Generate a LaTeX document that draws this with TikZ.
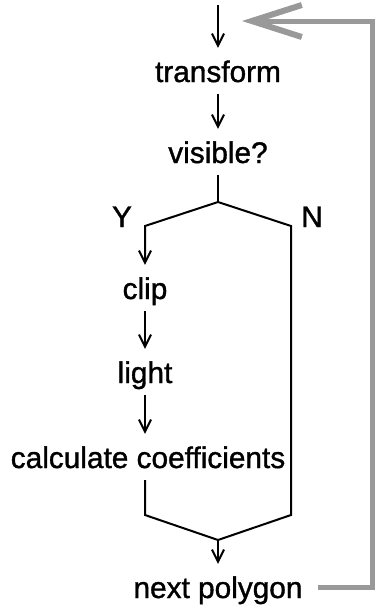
\documentclass[tikz,border=0pt]{standalone}
\usepackage{fontspec}
\setmainfont[FakeBold=1.2]{Liberation Sans}
\usepackage{tikz}
\usetikzlibrary{arrows.meta,positioning,calc}

\begin{document}
\begin{tikzpicture}[x=1pt, y=-1pt, font=\fontsize{29.8}{34}\selectfont,
  lbl/.style={anchor=base, inner sep=0pt, text height=34pt, text depth=12pt},
  flow/.style={line width=2pt, line join=miter},
  tip/.style={-{Straight Barb[length=12pt,width=12pt,line width=2pt]}},
  loopback/.style={line width=5pt, draw=black!40, line join=miter,
    -{Straight Barb[length=50pt,width=32pt,line width=6pt]}}]
\useasboundingbox (0,0) rectangle (376,611);
\def\lx{145}
\def\rx{291}
% steps
\node[lbl] (transform) at (218,82) {transform};
\node[lbl] (visible) at (218,163) {visible?};
\node[lbl] (clip) at (\lx,299) {clip};
\node[lbl] (light) at (\lx,383) {light};
\node[lbl] (calc) at (148,468) {calculate coefficients};
\node[lbl] (next) at (218,598) {next polygon};
\node[lbl] (yes) at (122,227) {Y};
\node[lbl] (no) at (312,227) {N};
% branch points
\coordinate (in) at (218,5);
\coordinate (split) at (218,202);
\coordinate (ycorner) at (\lx,226);
\coordinate (ncorner) at (\rx,226);
\coordinate (lcorner) at (\lx,515);
\coordinate (rcorner) at (\rx,515);
\coordinate (merge) at (218,540);
\coordinate (back) at (242,21);

\draw[flow, tip] (in) -- (transform.north);
\draw[flow, tip] (transform.south) -- (visible.north);
\draw[flow] (visible.south) -- (split);
\draw[flow, tip] (split) -- (ycorner) -- (clip.north);
\draw[flow] (split) -- (ncorner) -- (rcorner) -- (merge);
\draw[flow, tip] (clip.south) -- (light.north);
\draw[flow, tip] (light.south) -- (light.south |- calc.north);
\draw[flow] (lcorner |- calc.south) -- (lcorner) -- (merge);
\draw[flow, tip] (merge) -- (next.north);

% return to the next polygon
\draw[loopback, shorten <=15pt] (next.east) -- (372,587) |- (back);
\end{tikzpicture}
\end{document}
